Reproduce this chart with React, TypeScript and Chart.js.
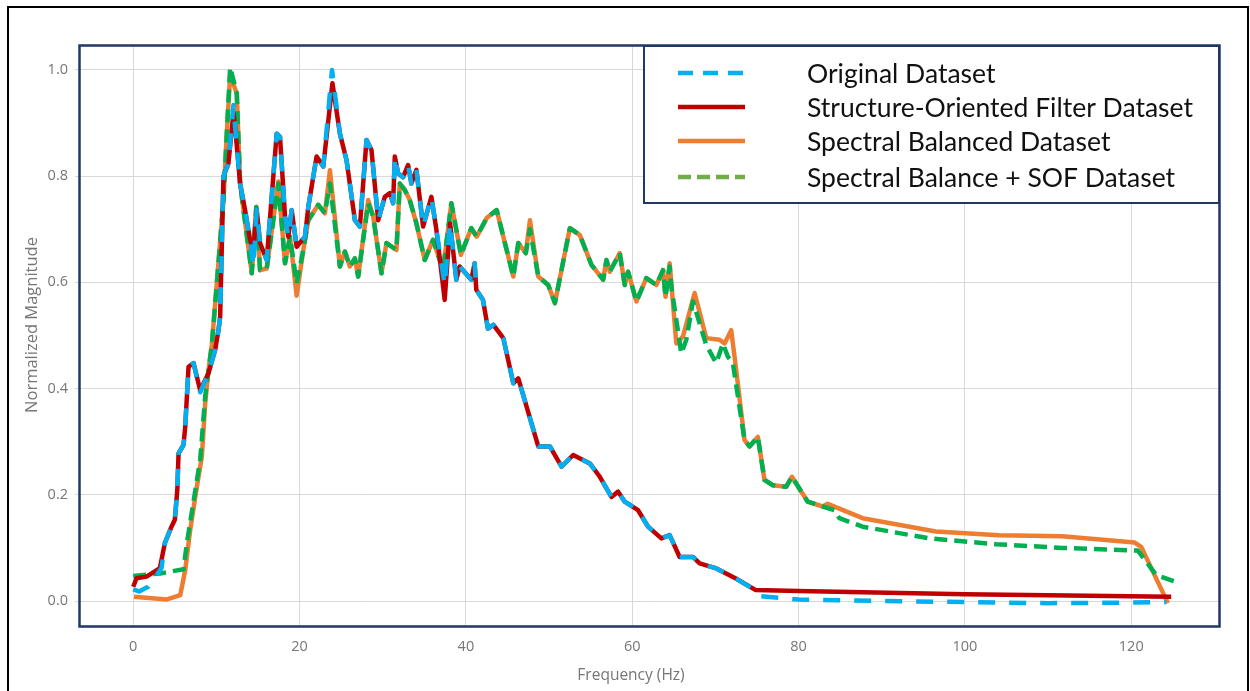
import React, { useEffect, useRef } from 'react';
import { Chart, registerables } from 'chart.js';

Chart.register(...registerables);

// ---- Data ----
const origFreq = [0, 0.7, 1.8, 3.4, 3.8, 4.6, 5.0, 5.3, 5.45, 6.05, 6.25, 6.65, 7.25, 8.05, 9.05, 9.85, 10.25, 10.45, 10.85, 11.45, 12.05, 12.25, 12.85, 13.45, 14.05, 14.45, 14.85, 15.25, 16.05, 17.25, 17.65, 18.25, 18.65, 19.05, 19.65, 20.65, 21.05, 22.05, 22.85, 23.9, 24.85, 25.65, 26.65, 27.25, 28.05, 28.65, 29.45, 30.25, 30.85, 31.25, 31.45, 31.85, 32.45, 33.05, 33.45, 34.05, 34.85, 35.85, 36.45, 37.45, 38.1, 38.85, 39.25, 40.65, 41.05, 41.25, 42.05, 42.65, 43.3, 44.5, 45.7, 46.3, 48.7, 50.1, 51.5, 52.9, 54.9, 56.1, 57.5, 58.3, 59.1, 60.7, 61.9, 63.5, 64.5, 65.7, 67.3, 68.1, 70.0, 72.4, 74.3, 75.5, 80, 90, 100, 110, 120, 124.2];
const origMag = [0.022, 0.018, 0.027, 0.062, 0.109, 0.14, 0.153, 0.209, 0.278, 0.294, 0.328, 0.441, 0.448, 0.393, 0.429, 0.473, 0.51, 0.535, 0.80, 0.824, 0.934, 0.893, 0.786, 0.736, 0.68, 0.63, 0.736, 0.674, 0.642, 0.88, 0.874, 0.724, 0.686, 0.736, 0.667, 0.686, 0.742, 0.837, 0.818, 1.0, 0.88, 0.83, 0.717, 0.705, 0.868, 0.849, 0.717, 0.761, 0.768, 0.749, 0.837, 0.805, 0.798, 0.821, 0.786, 0.812, 0.705, 0.761, 0.699, 0.595, 0.711, 0.605, 0.63, 0.605, 0.636, 0.586, 0.567, 0.513, 0.52, 0.495, 0.41, 0.419, 0.291, 0.291, 0.253, 0.275, 0.259, 0.234, 0.196, 0.206, 0.187, 0.171, 0.14, 0.118, 0.124, 0.083, 0.083, 0.071, 0.062, 0.043, 0.025, 0.009, 0.003, 0.0, -0.002, -0.004, -0.003, -0.002];

const sofFreq = [0, 0.4, 1.6, 3.2, 3.8, 4.6, 5.0, 5.3, 5.45, 6.05, 6.25, 6.65, 7.25, 8.05, 9.05, 9.85, 10.25, 10.45, 10.85, 11.45, 12.05, 12.25, 12.85, 13.45, 14.05, 14.45, 14.85, 15.25, 16.05, 17.25, 17.65, 18.25, 18.65, 19.05, 19.65, 20.65, 21.05, 22.05, 22.85, 23.95, 24.85, 25.65, 26.65, 27.25, 28.05, 28.65, 29.45, 30.25, 30.85, 31.25, 31.45, 31.85, 32.45, 33.05, 33.45, 34.05, 34.85, 35.85, 36.45, 37.45, 38.1, 38.85, 39.25, 40.65, 41.05, 41.25, 42.05, 42.65, 43.3, 44.5, 45.7, 46.3, 48.7, 50.1, 51.5, 52.9, 54.9, 56.1, 57.5, 58.3, 59.1, 60.7, 61.9, 63.5, 64.5, 65.7, 67.3, 68.1, 70.0, 72.4, 74.8, 80, 100, 124.8];
const sofMag = [0.027, 0.043, 0.046, 0.062, 0.109, 0.14, 0.153, 0.209, 0.278, 0.294, 0.328, 0.441, 0.448, 0.397, 0.429, 0.473, 0.51, 0.535, 0.80, 0.824, 0.92, 0.893, 0.786, 0.736, 0.68, 0.661, 0.736, 0.674, 0.642, 0.88, 0.874, 0.724, 0.686, 0.736, 0.667, 0.686, 0.742, 0.837, 0.818, 0.975, 0.88, 0.83, 0.717, 0.705, 0.868, 0.849, 0.717, 0.761, 0.768, 0.749, 0.837, 0.805, 0.798, 0.821, 0.786, 0.812, 0.705, 0.761, 0.699, 0.567, 0.711, 0.605, 0.63, 0.605, 0.636, 0.586, 0.567, 0.513, 0.52, 0.495, 0.41, 0.419, 0.291, 0.291, 0.253, 0.275, 0.259, 0.234, 0.196, 0.206, 0.187, 0.171, 0.14, 0.118, 0.124, 0.083, 0.083, 0.071, 0.062, 0.043, 0.021, 0.019, 0.013, 0.008];

const sbFreq = [0.1, 4.05, 5.65, 6.25, 6.85, 7.65, 8.25, 8.65, 9.05, 9.45, 10.05, 10.85, 11.25, 11.65, 12.45, 12.85, 14.25, 14.8, 15.25, 16.05, 17.45, 18.25, 18.85, 19.65, 20.45, 21.05, 22.25, 23.05, 23.65, 24.85, 25.45, 26.05, 26.65, 27.05, 28.25, 28.85, 29.85, 30.45, 31.65, 32.05, 32.65, 33.25, 34.05, 35.05, 36.05, 37.25, 38.25, 39.4, 40.65, 41.3, 42.5, 43.7, 45.7, 46.3, 47.2, 47.7, 48.7, 49.9, 50.7, 52.5, 53.7, 55.1, 56.5, 56.9, 57.3, 58.5, 59.1, 59.5, 60.5, 61.7, 62.9, 63.7, 64.0, 64.5, 65.3, 66.1, 67.5, 68.9, 70.5, 71.1, 71.9, 72.5, 73.5, 74.1, 75.1, 75.9, 76.9, 78.5, 79.2, 81.1, 82.9, 83.5, 87.7, 96.5, 104.1, 111.7, 120.4, 121.2, 124.4];
const sbMag = [0.008, 0.003, 0.011, 0.058, 0.134, 0.215, 0.272, 0.372, 0.435, 0.482, 0.598, 0.755, 0.88, 0.99, 0.956, 0.786, 0.617, 0.742, 0.623, 0.626, 0.79, 0.636, 0.686, 0.575, 0.661, 0.717, 0.746, 0.73, 0.811, 0.63, 0.658, 0.63, 0.645, 0.611, 0.755, 0.724, 0.617, 0.674, 0.661, 0.786, 0.774, 0.755, 0.711, 0.642, 0.68, 0.623, 0.749, 0.652, 0.702, 0.686, 0.721, 0.736, 0.611, 0.674, 0.655, 0.717, 0.611, 0.595, 0.561, 0.702, 0.689, 0.633, 0.605, 0.642, 0.62, 0.655, 0.595, 0.62, 0.564, 0.608, 0.595, 0.623, 0.573, 0.636, 0.485, 0.498, 0.58, 0.495, 0.492, 0.485, 0.51, 0.435, 0.303, 0.291, 0.309, 0.228, 0.218, 0.215, 0.234, 0.187, 0.178, 0.183, 0.156, 0.131, 0.124, 0.122, 0.11, 0.102, -0.004];

const sbSofFreq = [0, 3.25, 6.05, 6.45, 8.05, 8.65, 9.05, 9.45, 10.05, 10.85, 11.25, 11.65, 12.45, 12.85, 14.25, 14.8, 15.25, 16.05, 17.45, 18.25, 18.85, 19.65, 20.45, 21.05, 22.25, 23.05, 23.65, 24.85, 25.45, 26.05, 26.65, 27.05, 28.25, 28.85, 29.85, 30.45, 31.65, 32.05, 32.65, 33.25, 34.05, 35.05, 36.05, 37.25, 38.25, 39.4, 40.65, 41.3, 42.5, 43.7, 45.7, 46.3, 47.2, 47.7, 48.7, 49.9, 50.7, 52.5, 53.7, 55.1, 56.5, 56.9, 57.3, 58.5, 59.1, 59.5, 60.5, 61.7, 62.9, 63.7, 64.0, 64.5, 64.7, 65.9, 66.5, 67.3, 68.9, 70.1, 70.9, 71.5, 72.1, 73.5, 74.1, 75.1, 75.9, 76.9, 78.5, 79.2, 81.1, 82.9, 84.3, 84.9, 87.7, 95.7, 103.7, 111.7, 120.8, 123.0, 125.4];
const sbSofMag = [0.047, 0.052, 0.06, 0.109, 0.266, 0.385, 0.435, 0.482, 0.598, 0.755, 0.88, 1.005, 0.956, 0.786, 0.617, 0.742, 0.623, 0.626, 0.786, 0.636, 0.686, 0.598, 0.661, 0.717, 0.746, 0.73, 0.786, 0.63, 0.658, 0.63, 0.645, 0.611, 0.749, 0.724, 0.617, 0.674, 0.661, 0.786, 0.774, 0.755, 0.711, 0.642, 0.68, 0.623, 0.749, 0.652, 0.702, 0.686, 0.721, 0.736, 0.611, 0.674, 0.655, 0.70, 0.611, 0.595, 0.561, 0.702, 0.689, 0.633, 0.605, 0.642, 0.62, 0.655, 0.595, 0.62, 0.564, 0.608, 0.595, 0.623, 0.573, 0.63, 0.592, 0.466, 0.492, 0.564, 0.482, 0.448, 0.485, 0.46, 0.448, 0.303, 0.291, 0.309, 0.228, 0.218, 0.215, 0.234, 0.187, 0.178, 0.171, 0.156, 0.14, 0.118, 0.107, 0.1, 0.095, 0.049, 0.036];

const xTicks = [0, 20, 40, 60, 80, 100, 120];
const yTicks = [0, 0.2, 0.4, 0.6, 0.8, 1.0];
const seriesLabels = [
  'Original Dataset',
  'Structure-Oriented Filter Dataset',
  'Spectral Balanced Dataset',
  'Spectral Balance + SOF Dataset',
];
const xTitle = 'Frequency (Hz)';
const yTitle = 'Normalized Magnitude';

const toPoints = (xs: number[], ys: number[]) => xs.map((x, i) => ({ x, y: ys[i] }));

const NAVY = '#1f3864';
const TICK_FONT = "'Open Sans', 'DejaVu Sans', sans-serif";
const LEGEND_FONT = "Lato, 'Open Sans', sans-serif";

const legendStyles = [
  { color: '#00b0f0', width: 4.5, dash: [15, 10] },
  { color: '#c00000', width: 4.5, dash: [] as number[] },
  { color: '#ed7d31', width: 4.5, dash: [] as number[] },
  { color: '#70ad47', width: 4.5, dash: [13, 6] },
];

const decorPlugin = {
  id: 'decor',
  afterDatasetsDraw(chart: any) {
    const { ctx, chartArea: a } = chart;
    ctx.save();
    ctx.strokeStyle = NAVY;
    ctx.lineWidth = 2.5;
    ctx.strokeRect(a.left - 0.5, a.top - 0.5, a.right - a.left + 1, a.bottom - a.top + 1);
    ctx.restore();
  },
  afterDraw(chart: any) {
    const { ctx } = chart;
    ctx.save();
    // axis titles
    ctx.fillStyle = '#767676';
    ctx.textAlign = 'center';
    ctx.textBaseline = 'middle';
    ctx.font = `15.5px ${TICK_FONT}`;
    ctx.fillText(xTitle, 631, 676);
    ctx.save();
    ctx.translate(32, 325);
    ctx.rotate(-Math.PI / 2);
    ctx.font = `16.5px ${TICK_FONT}`;
    ctx.fillText(yTitle, 0, 0);
    ctx.restore();

    // legend box
    const bx = 644, by = 46, bw = 575, bh = 157;
    ctx.fillStyle = '#ffffff';
    ctx.fillRect(bx, by, bw, bh);
    ctx.strokeStyle = NAVY;
    ctx.lineWidth = 2;
    ctx.strokeRect(bx, by, bw, bh);

    // font sized so that the longest label spans the reference width
    let size = 22;
    ctx.font = `${size}px ${LEGEND_FONT}`;
    const w = ctx.measureText(seriesLabels[1]).width;
    if (w > 0) size = Math.max(16, Math.min(28, size * 386 / w));
    ctx.font = `${size}px ${LEGEND_FONT}`;
    ctx.textAlign = 'left';
    ctx.textBaseline = 'middle';
    const rows = [73, 107, 141, 177];
    seriesLabels.forEach((label, i) => {
      const st = legendStyles[i];
      const y = rows[i];
      ctx.beginPath();
      ctx.strokeStyle = st.color;
      ctx.lineWidth = st.width;
      ctx.setLineDash(st.dash);
      ctx.lineCap = 'butt';
      ctx.moveTo(678, y);
      ctx.lineTo(745, y);
      ctx.stroke();
      ctx.setLineDash([]);
      ctx.fillStyle = '#111111';
      ctx.fillText(label, 807, y + 1);
    });
    ctx.restore();
  },
};

export default function App() {
  const canvasRef = useRef<HTMLCanvasElement | null>(null);

  useEffect(() => {
    const canvas = canvasRef.current;
    if (!canvas) return;
    const chart = new Chart(canvas, {
      type: 'line',
      data: {
        datasets: [
          {
            label: seriesLabels[0],
            data: toPoints(origFreq, origMag),
            borderColor: '#00b0f0',
            borderWidth: 4.5,
            borderDash: [17, 14],
            borderCapStyle: 'butt',
            borderJoinStyle: 'round',
            pointRadius: 0,
            tension: 0,
            order: 0,
          },
          {
            label: seriesLabels[1],
            data: toPoints(sofFreq, sofMag),
            borderColor: '#c00000',
            borderWidth: 4.5,
            borderJoinStyle: 'round',
            pointRadius: 0,
            tension: 0,
            order: 1,
          },
          {
            label: seriesLabels[3],
            data: toPoints(sbSofFreq, sbSofMag),
            borderColor: '#00b050',
            borderWidth: 4.5,
            borderDash: [13, 7],
            borderCapStyle: 'butt',
            borderJoinStyle: 'round',
            pointRadius: 0,
            tension: 0,
            order: 2,
          },
          {
            label: seriesLabels[2],
            data: toPoints(sbFreq, sbMag),
            borderColor: '#ed7d31',
            borderWidth: 4.5,
            borderJoinStyle: 'round',
            pointRadius: 0,
            tension: 0,
            order: 3,
          },
        ],
      },
      options: {
        responsive: false,
        animation: false,
        devicePixelRatio: 1,
        parsing: false as any,
        layout: { padding: { left: 0, top: 46, right: 31, bottom: 0 } },
        plugins: {
          legend: { display: false },
          tooltip: { enabled: false },
          title: { display: false },
        },
        scales: {
          x: {
            type: 'linear',
            min: -6.4,
            max: 130.55,
            afterBuildTicks: (s: any) => {
              s.ticks = xTicks.map((v) => ({ value: v }));
            },
            afterFit: (s: any) => {
              s.height = 65;
            },
            border: { display: false },
            grid: { color: '#d9d9d9', lineWidth: 1, drawTicks: false },
            ticks: {
              autoSkip: false,
              maxRotation: 0,
              padding: 12,
              color: '#767676',
              font: { family: TICK_FONT, size: 14.5 },
              callback: (v: any) => String(v),
            },
          },
          y: {
            type: 'linear',
            min: -0.047,
            max: 1.045,
            afterBuildTicks: (s: any) => {
              s.ticks = yTicks.map((v) => ({ value: v }));
            },
            afterFit: (s: any) => {
              s.width = 80;
            },
            border: { display: false },
            grid: { color: '#d9d9d9', lineWidth: 1, drawTicks: true, tickLength: 5 },
            ticks: {
              autoSkip: false,
              padding: 7,
              color: '#767676',
              font: { family: TICK_FONT, size: 14.5 },
              callback: (v: any) => Number(v).toFixed(1),
            },
          },
        },
      },
      plugins: [decorPlugin],
    } as any);
    return () => chart.destroy();
  }, []);

  return (
    <div
      style={{
        position: 'fixed',
        left: 0,
        top: 0,
        width: 1250,
        height: 691,
        overflow: 'hidden',
        background: '#ffffff',
      }}
    >
      <div
        style={{
          position: 'absolute',
          left: 7,
          top: 6,
          width: 1242,
          height: 720,
          border: '2px solid #000000',
          boxSizing: 'border-box',
        }}
      />
      <canvas
        ref={canvasRef}
        width={1250}
        height={691}
        style={{ position: 'absolute', left: 0, top: 0, display: 'block' }}
      />
    </div>
  );
}
